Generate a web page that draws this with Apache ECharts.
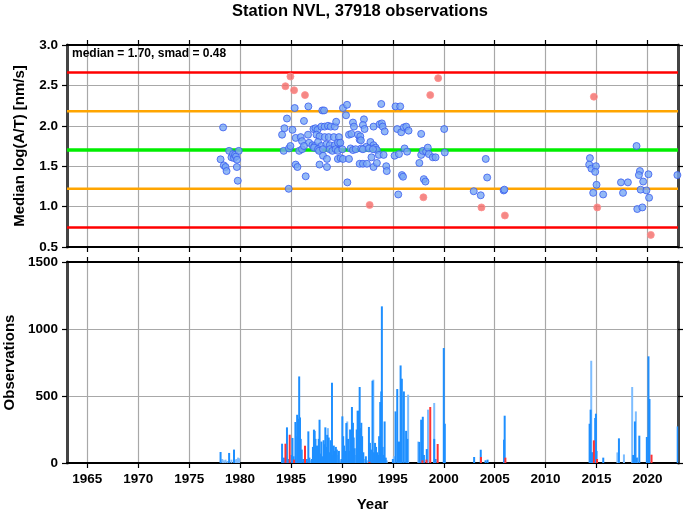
<!DOCTYPE html>
<html><head><meta charset="utf-8">
<script src="https://cdn.jsdelivr.net/npm/echarts@6/dist/echarts.min.js"></script>
<style>html,body{margin:0;padding:0;background:#fff}#c{width:685px;height:511px}</style>
</head><body><div id="c"></div>
<script>
const titleText = 'Station NVL, 37918 observations';
const yearTicks = [1965,1970,1975,1980,1985,1990,1995,2000,2005,2010,2015,2020];
const medianVal = 1.70;
const smadVal = 0.48;

const blueMedians = [
[1978.08,1.585],[1978.33,1.98],[1978.4,1.51],[1978.57,1.49],[1978.67,1.44],[1978.92,1.69],[1979.15,1.61],[1979.3,1.65],[1979.4,1.60],[1979.5,1.64],[1979.6,1.62],[1979.7,1.58],[1979.68,1.49],[1979.77,1.32],[1979.87,1.69],
[1985.36,2.22],[1986.7,2.24],[1988.07,2.19],[1988.24,2.19],[1990.1,2.22],[1990.5,2.26],[1990.4,2.13],[1984.6,2.09],[1986.27,2.06],[1984.35,1.97],[1984.12,1.89],[1985.14,1.95],[1985.46,1.85],[1985.95,1.86],[1986.08,1.81],[1986.67,1.89],[1987.2,1.96],[1987.4,1.97],[1987.6,1.95],[1987.98,1.99],[1988.3,1.99],[1988.63,2.0],[1988.9,1.99],[1989.3,1.99],[1989.43,2.05],[1987.5,1.89],[1987.8,1.87],[1988.3,1.86],[1988.7,1.86],[1989.2,1.86],[1989.7,1.86],[1986.77,1.79],[1987.1,1.76],[1987.32,1.75],[1987.65,1.80],[1987.98,1.75],[1988.47,1.77],[1988.8,1.76],[1989.28,1.76],[1989.7,1.78],[1984.28,1.69],[1984.8,1.72],[1984.94,1.75],[1985.8,1.69],[1986.08,1.71],[1986.27,1.75],[1987.25,1.73],[1987.65,1.71],[1987.75,1.69],[1988.14,1.71],[1988.8,1.71],[1989.06,1.69],[1989.38,1.71],[1989.6,1.79],[1989.84,1.79],[1989.6,1.69],[1990.04,1.71],[1988.14,1.63],[1988.53,1.59],[1989.6,1.59],[1989.87,1.60],[1990.1,1.59],[1990.69,1.59],[1985.46,1.52],[1985.63,1.49],[1987.8,1.52],[1988.53,1.49],[1986.44,1.375],[1990.53,1.30],[1984.77,1.22],[1990.85,1.72],[1991.08,1.70],[1991.35,1.71],[1990.69,1.89],[1990.92,1.90],[1991.08,2.04],[1991.18,1.99],[1991.57,1.89],[1991.74,1.83],
[1993.86,2.27],[1995.26,2.24],[1995.72,2.24],[1992.16,2.08],[1992.06,2.01],[1992.22,1.96],[1993.1,1.99],[1993.7,2.02],[1993.92,2.03],[1994.0,1.99],[1994.2,1.93],[1995.43,1.96],[1995.82,1.92],[1996.08,1.98],[1996.31,1.99],[1996.54,1.94],[1997.78,1.90],[2000.04,1.96],[1991.8,1.87],[1991.86,1.82],[1992.4,1.74],[1992.8,1.80],[1993.1,1.76],[1993.3,1.73],[1993.43,1.70],[1991.9,1.72],[1992.06,1.71],[1992.65,1.72],[1993.05,1.71],[1993.63,1.64],[1994.09,1.64],[1992.9,1.61],[1991.74,1.53],[1992.06,1.53],[1992.45,1.53],[1993.1,1.49],[1993.43,1.54],[1994.35,1.50],[1994.4,1.44],[1995.17,1.63],[1995.6,1.65],[1996.15,1.72],[1996.4,1.68],[1995.89,1.39],[1996.0,1.37],[1995.53,1.15],[1997.6,1.54],[1997.78,1.64],[1997.94,1.69],[1998.27,1.68],[1998.43,1.73],[1998.53,1.65],[1998.92,1.61],[1999.19,1.61],[1998.04,1.34],[1998.2,1.31],[2000.1,1.67],
[2002.94,1.19],[2003.63,1.14],[2004.12,1.59],[2004.26,1.36],[2005.88,1.20],[2005.95,1.21],[2014.35,1.60],[2014.28,1.52],[2014.5,1.47],[2014.94,1.50],[2014.87,1.43],[2015.0,1.27],[2014.67,1.17],[2015.65,1.15],[2017.4,1.30],[2018.08,1.30],[2017.6,1.17],[2018.93,1.75],[2019.26,1.44],[2019.16,1.39],[2019.58,1.31],[2019.33,1.21],[2019.0,0.97],[2019.5,0.99],[2020.1,1.40],[2019.9,1.20],[2020.16,1.11],[2022.94,1.39]
];

const redMedians = [
[1984.94,2.61],[1984.45,2.49],[1985.3,2.44],[1986.37,2.38],[1992.72,1.02],[1998.67,2.38],[1999.45,2.59],[1998.0,1.115],[2003.7,0.99],[2006.0,0.89],[2014.74,2.36],[2015.07,0.99],[2020.33,0.65]
];

const blueCounts = [
[1978.08,82],[1978.92,75],[1979.4,100],
[1984.12,144],[1984.3,40],[1984.6,266],[1984.7,30],[1985.05,60],[1985.14,187],[1985.25,50],[1985.43,306],[1985.6,360],[1985.7,330],[1985.8,646],[1985.88,340],[1985.95,180],[1986.05,100],[1986.2,30],[1986.55,30],[1986.7,236],[1986.8,40],[1987.05,30],[1987.15,120],[1987.25,249],[1987.32,240],[1987.4,180],[1987.55,130],[1987.65,60],[1987.72,180],[1987.8,323],[1987.9,70],[1987.98,160],[1988.1,50],[1988.2,170],[1988.3,140],[1988.37,266],[1988.45,120],[1988.55,210],[1988.7,190],[1988.8,80],[1988.9,170],[1989.02,599],[1989.1,60],[1989.2,130],[1989.3,90],[1989.4,120],[1989.5,100],[1989.7,90],[1989.95,30],[1990.04,348],[1990.12,200],[1990.2,130],[1990.3,90],[1990.43,298],[1990.6,180],[1990.7,90],[1990.8,250],[1990.9,120],[1990.98,418],[1991.08,300],[1991.15,190],[1991.25,110],[1991.45,250],[1991.54,390],[1991.64,390],[1991.74,567],[1991.82,260],[1991.9,300],[1991.98,200],[1992.1,80],[1992.35,50],[1992.65,269],[1992.75,150],[1992.85,100],[1993.0,614],[1993.15,80],[1993.25,150],[1993.35,120],[1993.45,80],[1993.55,60],[1993.65,200],[1993.76,455],[1993.86,534],[1993.92,1169],[1994.0,120],[1994.1,60],[1994.19,310],[1994.3,40],
[1995.0,30],[1995.26,385],[1995.43,552],[1995.6,160],[1995.76,728],[1995.88,629],[1996.08,534],[1996.3,240],[1996.42,180],
[1997.6,157],[1997.78,323],[1997.94,345],[1998.05,60],[1998.33,104],[1999.06,180],[1999.2,30],[2000.0,858],[2000.1,293],
[2002.98,45],[2003.63,99],[2004.1,20],[2004.3,25],[2005.92,174],[2005.98,353],
[2014.32,293],[2014.42,398],[2014.55,80],[2014.87,336],[2014.94,368],[2015.0,90],[2015.66,40],[2017.2,184],[2018.6,60],[2018.77,310],[2018.95,40],[2019.2,204],[2019.94,194],[2020.1,796],[2020.2,478],[2022.97,273]
];

const blueCountsLight = [
[1978.25,30],[1978.4,20],[1978.57,25],[1978.75,15],[1979.15,25],[1979.55,25],[1979.65,30],[1979.8,40],[1979.9,35],
[1984.2,20],[1985.52,200],[1986.45,20],[1986.95,20],[1987.48,100],[1988.62,260],[1989.6,60],[1989.8,20],[1990.52,310],[1991.35,60],[1992.2,30],[1992.5,20],[1993.08,622],[1994.4,20],
[1995.1,50],[1996.5,510],[1997.5,160],[1998.45,398],[1999.06,448],
[2014.48,763],[2014.6,80],[2017.05,79],[2017.69,64],[2018.5,567],[2018.86,385],[2019.0,40]
];

const redCounts = [
[1984.45,144],[1984.87,211],[1985.3,25],[1986.37,129],[1992.7,8],[1997.9,20],[1998.3,25],[1998.67,418],[1999.4,142],[2003.65,45],[2006.05,40],[2014.74,169],[2015.05,30],[2020.4,62]
];

const FONT = 'Liberation Sans';
const xMin = 1963, xMax = 2023;
const levels = [
  {v: medianVal + 2*smadVal, c: '#ff0000', w: 2.5},
  {v: medianVal + smadVal, c: '#ffa500', w: 2.5},
  {v: medianVal, c: '#00ee00', w: 3.5},
  {v: medianVal - smadVal, c: '#ffa500', w: 2.5},
  {v: medianVal - 2*smadVal, c: '#ff0000', w: 2.5}
];

const gridColor = '#a8a8a8';
const gridLine = {show: true, lineStyle: {color: gridColor, width: 1.2}};
const tickStyle = {show: true, length: 5, lineStyle: {color: '#000', width: 1.2}};
const lbl = {color: '#000', fontFamily: FONT, fontWeight: 'bold', fontSize: 13.5};

function xAx(grid, pos, showLabel, split) {
  return {
    type: 'value', gridIndex: grid, position: pos, min: xMin, max: xMax,
    axisLine: {show: true, onZero: false, lineStyle: {color: '#000', width: 2}},
    axisTick: Object.assign({customValues: yearTicks}, tickStyle),
    axisLabel: showLabel ? Object.assign({customValues: yearTicks, margin: 9, formatter: v => String(v)}, lbl) : {show: false},
    splitLine: split ? gridLine : {show: false},
    name: showLabel ? 'Year' : '', nameLocation: 'middle', nameGap: 34,
    nameTextStyle: {color: '#000', fontFamily: FONT, fontWeight: 'bold', fontSize: 15}
  };
}
function yAx(grid, pos, min, max, interval, showLabel, name, fmt) {
  return {
    type: 'value', gridIndex: grid, position: pos, min: min, max: max, interval: interval,
    axisLine: {show: true, onZero: false, lineStyle: {color: '#444', width: 3}},
    axisTick: tickStyle,
    axisLabel: showLabel ? Object.assign({margin: 9, formatter: fmt}, lbl) : {show: false},
    splitLine: showLabel ? gridLine : {show: false},
    name: name || '', nameLocation: 'middle', nameGap: 40,
    nameTextStyle: {color: '#000', fontFamily: FONT, fontWeight: 'bold', fontSize: 15}
  };
}

const series = [];
levels.forEach(l => series.push({
  type: 'line', xAxisIndex: 0, yAxisIndex: 0, data: [[xMin, l.v], [xMax, l.v]],
  symbol: 'none', silent: true, z: 2, lineStyle: {color: l.c, width: l.w}
}));
series.push({
  type: 'scatter', xAxisIndex: 0, yAxisIndex: 0, data: blueMedians, symbolSize: 7, z: 4,
  itemStyle: {color: '#78a8f4', borderColor: '#3a5cf0', borderWidth: 1}
});
series.push({
  type: 'scatter', xAxisIndex: 0, yAxisIndex: 0, data: redMedians, symbolSize: 7, z: 4,
  itemStyle: {color: '#f36a66', borderColor: '#ff9090', borderWidth: 1}
});
series.push({
  type: 'bar', xAxisIndex: 2, yAxisIndex: 2, data: blueCountsLight, barWidth: 2, barGap: '-100%', z: 3,
  itemStyle: {color: '#7dbdff'}
});
series.push({
  type: 'bar', xAxisIndex: 2, yAxisIndex: 2, data: blueCounts, barWidth: 2, barGap: '-100%', z: 3,
  itemStyle: {color: '#1e8fff'}
});
series.push({
  type: 'bar', xAxisIndex: 2, yAxisIndex: 2, data: redCounts, barWidth: 2, barGap: '-100%', z: 3,
  itemStyle: {color: '#ff3333'}
});

const chart = echarts.init(document.getElementById('c'));
chart.setOption({
  animation: false,
  backgroundColor: '#fff',
  grid: [
    {left: 67, top: 45, width: 611, height: 202, containLabel: false, outerBoundsMode: 'none'},
    {left: 67, top: 262, width: 611, height: 201, containLabel: false, outerBoundsMode: 'none'}
  ],
  xAxis: [xAx(0, 'bottom', false, true), xAx(0, 'top', false, false), xAx(1, 'bottom', true, true), xAx(1, 'top', false, false)],
  yAxis: [
    yAx(0, 'left', 0.5, 3.0, 0.5, true, 'Median log(A/T) [nm/s]', v => v.toFixed(1)),
    yAx(0, 'right', 0.5, 3.0, 0.5, false),
    yAx(1, 'left', 0, 1500, 500, true, 'Observations', v => String(v)),
    yAx(1, 'right', 0, 1500, 500, false)
  ],
  graphic: [
    {type: 'text', x: 360, y: 3, style: {text: titleText, textAlign: 'center', fill: '#000', font: 'bold 16.5px ' + FONT}},
    {type: 'text', x: 72, y: 48, z: 10, style: {text: 'median = ' + medianVal.toFixed(2) + ', smad = ' + smadVal.toFixed(2), fill: '#000', font: 'bold 12px ' + FONT}}
  ],
  series: series
});
</script>
</body></html>
